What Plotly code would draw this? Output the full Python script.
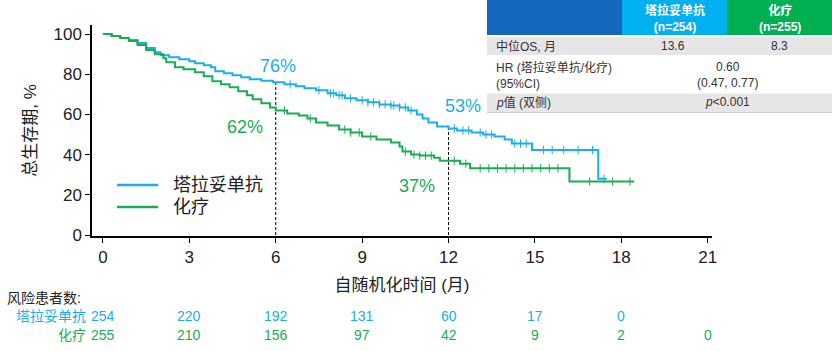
import numpy as np
import plotly.graph_objects as go

# ---------------- data ----------------
arm_names = ["塔拉妥单抗", "化疗"]
colors = ["#1AAEEA", "#16AE52"]

tala_t = [0, 0.3, 0.6, 0.9, 1.2, 1.5, 1.8, 2.0, 2.3, 2.65, 3.0, 3.2, 3.5, 3.75, 3.9, 4.2, 4.5, 4.8,
          5.1, 5.5, 5.9, 6.3, 6.7, 7.0, 7.4, 7.8, 8.1, 8.4, 8.8, 9.2, 9.6, 10.0, 10.3, 10.6, 10.9,
          11.1, 11.3, 11.6, 12.0, 12.3, 12.8, 13.2, 13.6, 13.95, 14.2, 14.9, 17.2, 17.5]
tala_s = [100, 99, 98, 97, 95.5, 93, 91, 89.5, 88.5, 87.5, 86.5, 85.5, 84.5, 83.5, 81.5, 80.5, 79.5, 78.5,
          77.5, 76.8, 76, 75, 74, 73, 72, 70.5, 69.5, 68, 67, 66, 65, 64.5, 63.5, 62, 60,
          58, 56, 54, 53, 52, 51, 50, 49, 47.5, 45.5, 42.3, 28.0, 28.0]
tala_cens = [6.5, 7.5, 7.9, 8.0, 8.2, 8.3, 8.6, 9.0, 9.2, 9.4, 9.6, 9.8, 10.0, 10.1, 10.3, 10.5, 10.7,
             12.2, 12.5, 12.7, 13.1, 13.3, 13.5, 14.3, 14.5, 14.7, 15.3, 15.6, 16.0, 16.5, 17.0, 17.4]

chemo_t = [0, 0.3, 0.6, 0.9, 1.2, 1.5, 1.8, 2.1, 2.2, 2.5, 2.8, 3.2, 3.5, 3.8, 4.1, 4.4, 4.7, 5.0,
           5.2, 5.5, 5.8, 6.0, 6.4, 6.8, 7.1, 7.4, 7.8, 8.2, 8.6, 9.0, 9.5, 10.0, 10.3, 10.4, 10.7,
           11.0, 11.5, 11.7, 12.4, 12.75, 16.2, 18.45]
chemo_s = [100, 99, 98, 96.5, 94.5, 92, 90, 88, 86, 83.5, 82.5, 81, 79, 76.5, 75, 73.5, 71.5, 69.5,
           67.5, 65.5, 63.5, 62, 60.5, 59.5, 58, 56, 54.5, 52.5, 51, 49, 47.5, 46, 44, 41.5, 40,
           39.5, 38.5, 37, 35.5, 33.2, 26.6, 26.6]
chemo_cens = [6.3, 7.2, 8.4, 8.6, 8.9, 9.3, 10.5, 10.8, 11.0, 11.2, 11.4, 12.2, 12.6, 13.1, 13.4, 13.7,
              14.0, 14.3, 14.6, 14.9, 15.2, 15.5, 15.8, 16.9, 17.7, 18.3]

landmark_t = [6, 12]
tala_landmark = [76, 53]
chemo_landmark = [62, 37]

x_ticks = [0, 3, 6, 9, 12, 15, 18, 21]
y_ticks = [0, 20, 40, 60, 80, 100]
risk_tala = ["254", "220", "192", "131", "60", "17", "0"]
risk_chemo = ["255", "210", "156", "97", "42", "9", "2", "0"]

table_header = ["塔拉妥单抗<br>(n=254)", "化疗<br>(n=255)"]
table_rows = ["中位OS, 月", "HR (塔拉妥单抗/化疗)<br>(95%CI)", "<i>p</i>值 (双侧)"]
median_os = ["13.6", "8.3"]
hr_text = "0.60<br>(0.47, 0.77)"
p_text = "<i>p</i><0.001"

FONT = "Arial, Liberation Sans, Noto Sans CJK SC, sans-serif"

# ---------------- figure ----------------
W, H = 832, 351
L, R, T, B = 92, 120, 25, 115
PW, PH = W - L - R, H - T - B


def px(xp):
    return (xp - L) / PW


def py(yp):
    return (H - B - yp) / PH


fig = go.Figure()


def step_val(ts, ss, t):
    i = np.searchsorted(np.array(ts), t, side="right") - 1
    return ss[i]


for name, col, ts, ss, cens in [(arm_names[0], colors[0], tala_t, tala_s, tala_cens),
                                (arm_names[1], colors[1], chemo_t, chemo_s, chemo_cens)]:
    fig.add_trace(go.Scatter(x=ts, y=ss, mode="lines", line=dict(color=col, width=2, shape="hv"),
                             name=name, showlegend=False))
    fig.add_trace(go.Scatter(x=cens, y=[step_val(ts, ss, c) for c in cens], mode="markers",
                             marker=dict(symbol="line-ns", size=6, line=dict(color=col, width=1)),
                             showlegend=False, hoverinfo="skip"))

# legend (drawn manually to match layout)
for i, (name, col) in enumerate(zip(arm_names, colors)):
    yy = 185 + 22 * i
    fig.add_shape(type="line", xref="paper", yref="paper", x0=px(117), x1=px(158), y0=py(yy), y1=py(yy),
                  line=dict(color=col, width=2.5))
    fig.add_annotation(xref="paper", yref="paper", x=px(171), y=py(yy), text=name, showarrow=False,
                       xanchor="left", yanchor="middle", font=dict(size=18, color="#222"))

# landmark dashed lines
for t, v in zip(landmark_t, tala_landmark):
    fig.add_shape(type="line", xref="x", yref="y", x0=t, x1=t, y0=0, y1=v,
                  line=dict(color="black", width=1, dash="3px,2px"), layer="below")

# landmark labels
ann = []
ann.append(dict(x=landmark_t[0] + 0.08, y=tala_landmark[0] + 8, text=f"{tala_landmark[0]}%",
                font=dict(color=colors[0], size=18)))
ann.append(dict(x=landmark_t[0] - 1.07, y=chemo_landmark[0] - 8.3, text=f"{chemo_landmark[0]}%",
                font=dict(color=colors[1], size=18)))
ann.append(dict(x=landmark_t[1] + 0.5, y=tala_landmark[1] + 11, text=f"{tala_landmark[1]}%",
                font=dict(color=colors[0], size=18)))
ann.append(dict(x=landmark_t[1] - 1.1, y=chemo_landmark[1] - 12.6, text=f"{chemo_landmark[1]}%",
                font=dict(color=colors[1], size=18)))
for a in ann:
    a.update(xref="x", yref="y", showarrow=False, xanchor="center", yanchor="middle")
    fig.add_annotation(**a)

# risk table
fig.add_annotation(xref="paper", yref="paper", x=px(5), y=py(298), text="风险患者数:", showarrow=False,
                   xanchor="left", yanchor="middle", font=dict(size=14, color="#222"))
fig.add_annotation(xref="paper", yref="paper", x=px(88), y=py(316), text=arm_names[0], showarrow=False,
                   xanchor="right", yanchor="middle", font=dict(size=14, color=colors[0]))
fig.add_annotation(xref="paper", yref="paper", x=px(88), y=py(335), text=arm_names[1], showarrow=False,
                   xanchor="right", yanchor="middle", font=dict(size=14, color=colors[1]))
for i, v in enumerate(risk_tala):
    fig.add_annotation(xref="x", yref="paper", x=x_ticks[i], y=py(316), text=v, showarrow=False,
                       xanchor="center", yanchor="middle", font=dict(size=14, color=colors[0]))
for i, v in enumerate(risk_chemo):
    fig.add_annotation(xref="x", yref="paper", x=x_ticks[i], y=py(335), text=v, showarrow=False,
                       xanchor="center", yanchor="middle", font=dict(size=14, color=colors[1]))

# info table (top right)
tx0, tx1, tx2, tx3 = 487, 622, 727, 832
rows_y = [(37, 55, "#E6E6E6"), (56.5, 92, "#FFFFFF"), (93.5, 112, "#E6E6E6")]


def rect(x0, x1, y0, y1, fill):
    fig.add_shape(type="rect", xref="paper", yref="paper", x0=px(x0), x1=px(x1), y0=py(y1), y1=py(y0),
                  fillcolor=fill, line=dict(width=0), layer="above")


rect(tx0, tx3, 35, 112.5, "#FFFFFF")
rect(tx0, tx1, 0, 35, "#1467BC")
rect(tx1, tx2, 0, 35, "#00B0F0")
rect(tx2, tx3, 0, 35, "#00B050")
for y0, y1, fill in rows_y:
    rect(tx0, tx3, y0, y1, fill)
fig.add_shape(type="line", xref="paper", yref="paper", x0=px(tx0), x1=px(tx3), y0=py(112.5), y1=py(112.5),
              line=dict(color="#CFCFCF", width=1), layer="above")

tfont = dict(size=12, color="#333333")


def tann(x, y, text, font=tfont, xanchor="center", align="center"):
    fig.add_annotation(xref="paper", yref="paper", x=px(x), y=py(y), text=text, showarrow=False,
                       xanchor=xanchor, yanchor="middle", align=align, font=font)


hfont = dict(size=12, color="white")
tann((tx1 + tx2) / 2, 19, "<b>" + table_header[0].replace("<br>", "</b><br><b>") + "</b>", hfont)
tann((tx2 + tx3) / 2, 19, "<b>" + table_header[1].replace("<br>", "</b><br><b>") + "</b>", hfont)
for txt, yc in zip(table_rows, [46, 75, 102.5]):
    tann(494, yc, txt, xanchor="left", align="left")
tann(673, 46, median_os[0])
tann(779, 46, median_os[1])
tann(727, 75, hr_text)
tann(727, 102.5, p_text)

fig.update_layout(
    width=W, height=H, margin=dict(l=L, r=R, t=T, b=B, autoexpand=False),
    paper_bgcolor="white", plot_bgcolor="white",
    font=dict(family=FONT, color="#222"),
    showlegend=False,
    xaxis=dict(range=[-0.38, 21.15], tickvals=x_ticks, ticks="outside", ticklen=5, tickwidth=1,
               tickcolor="black", showline=True, linecolor="black", linewidth=1.5, showgrid=False,
               zeroline=False, tickfont=dict(size=17, color="#222"),
               title=dict(text="自随机化时间 (月)", font=dict(size=17, color="#222"), standoff=13)),
    yaxis=dict(range=[-0.5, 104.5], tickvals=y_ticks, ticks="outside", ticklen=5, tickwidth=1,
               tickcolor="black", showline=True, linecolor="black", linewidth=1.5, showgrid=False,
               zeroline=False, tickfont=dict(size=17, color="#222"),
               title=dict(text="总生存期, %", font=dict(size=17, color="#222"), standoff=13)),
)

fig.write_html("out.html")
